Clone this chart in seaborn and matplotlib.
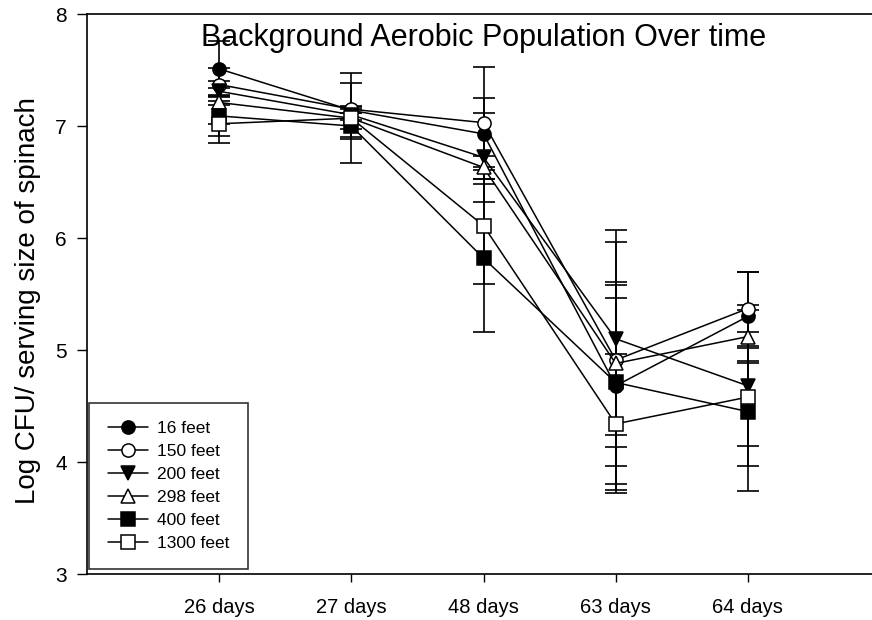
import numpy as np
import pandas as pd
import matplotlib
matplotlib.use("Agg")
import matplotlib.pyplot as plt
import seaborn as sns

# categorias del eje x
days = ["26 days", "27 days", "48 days", "63 days", "64 days"]
series = ["16 feet", "150 feet", "200 feet", "298 feet", "400 feet", "1300 feet"]

# valores medios (log CFU) por serie
v16 = [7.51, 7.14, 6.93, 4.68, 5.30]
v150 = [7.37, 7.15, 7.03, 4.91, 5.37]
v200 = [7.31, 7.10, 6.72, 5.10, 4.68]
v298 = [7.21, 7.07, 6.63, 4.88, 5.12]
v400 = [7.09, 7.00, 5.82, 4.71, 4.45]
v1300 = [7.02, 7.07, 6.11, 4.34, 4.58]

# errores (desviacion) por serie
e16 = [0.25, 0.24, 0.32, 0.93, 0.40]
e150 = [0.15, 0.03, 0.50, 0.67, 0.33]
e200 = [0.03, 0.05, 0.40, 0.97, 0.72]
e298 = [0.19, 0.10, 0.10, 1.08, 0.24]
e400 = [0.18, 0.12, 0.66, 0.75, 0.71]
e1300 = [0.17, 0.40, 0.52, 0.62, 0.44]

values = [v16, v150, v200, v298, v400, v1300]
errors = [e16, e150, e200, e298, e400, e1300]
markers = ["o", "o", "v", "^", "s", "s"]
faces = ["black", "white", "black", "white", "black", "white"]

sns.set_style("ticks")
plt.rcParams["font.family"] = ["Liberation Sans", "DejaVu Sans"]
plt.rcParams.update({"text.color": "black", "axes.labelcolor": "black",
                     "xtick.color": "black", "ytick.color": "black"})

fig = plt.figure(figsize=(8.72, 6.2), dpi=100)
ax = fig.add_axes([87 / 872, 46 / 620, 793 / 872, 560 / 620])

xpos = np.arange(1, len(days) + 1)
for name, vals, errs, mk, fc in zip(series, values, errors, markers, faces):
    df = pd.DataFrame({"x": xpos, "y": vals})
    ax.errorbar(df["x"], df["y"], yerr=errs, fmt="none", ecolor="black",
                elinewidth=1.2, capsize=8, capthick=1.2, zorder=2)
    sns.lineplot(data=df, x="x", y="y", ax=ax, color="black", linewidth=1.1,
                 marker=mk, markersize=9.5, markerfacecolor=fc,
                 markeredgecolor="black", markeredgewidth=1.1, label=name,
                 zorder=3)

ax.set_xlim(0, 6)
ax.set_ylim(3, 8)
ax.set_xticks(xpos)
ax.set_xticklabels(days, fontsize=14.5)
ax.set_yticks([3, 4, 5, 6, 7, 8])
ax.tick_params(axis="y", labelsize=15, length=7.5, width=1, direction="out",
               pad=7)
ax.tick_params(axis="x", length=6, width=1, direction="out", pad=11)
ax.set_xlabel("")
ax.set_ylabel("Log CFU/ serving size of spinach", fontsize=20)
ax.yaxis.set_label_coords(-0.058, 0.489)
for sp in ax.spines.values():
    sp.set_color("black")
    sp.set_linewidth(1.2)

ax.text(3, 7.79, "Background Aerobic Population Over time", ha="center",
        va="center", fontsize=22)

leg = ax.legend(loc="lower left", bbox_to_anchor=(0.003, 0.009),
                borderaxespad=0, fontsize=12.5, handlelength=2.3,
                labelspacing=0.45, frameon=True, fancybox=False,
                edgecolor="black", borderpad=1.05, handletextpad=0.55)
leg.get_frame().set_linewidth(1.2)

fig.savefig("out.png", dpi=100)
